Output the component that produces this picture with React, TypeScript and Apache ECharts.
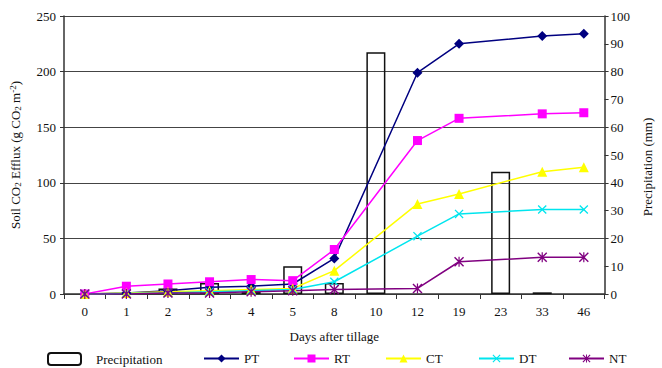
import React, { useEffect, useRef } from "react";
import * as echarts from "echarts";

const days = ["0", "1", "2", "3", "4", "5", "8", "10", "12", "19", "23", "33", "46"];
const precipitation = [null, null, 2, 4, 1, 10, 4, 87, null, null, 44, 0.6, null];
const pt = [0, 1, 3, 6, 7, 9, 32, null, 199, 225, null, 232, 234];
const rt = [0, 7, 9, 11, 13, 12, 40, null, 138, 158, null, 162, 163];
const ct = [0, 1, 2, 3, 4, 5, 21, null, 81, 90, null, 110, 114];
const dt = [0, 0.5, 1, 2, 3, 4, 11, null, 52, 72, null, 76, 76];
const nt = [0, 0, 1, 1, 2, 3, 4, null, 5, 29, null, 33, 33];

const FONT = "Liberation Serif";
const X_SYMBOL = "path://M0,1 L1,0 L5,4 L9,0 L10,1 L6,5 L10,9 L9,10 L5,6 L1,10 L0,9 L4,5 Z";
const STAR_SYMBOL =
  "path://M0,1 L1,0 L5,4 L9,0 L10,1 L6,5 L10,9 L9,10 L5,6 L1,10 L0,9 L4,5 Z M4.4,0 L5.6,0 L5.6,10 L4.4,10 Z";

export default function App() {
  const ref = useRef<HTMLDivElement>(null);
  useEffect(() => {
    if (!ref.current) return;
    const chart = echarts.init(ref.current, null, { renderer: "svg" });
    const lineSeries = (name: string, data: any[], color: string, symbol: string, size: number) => ({
      name,
      type: "line",
      data,
      yAxisIndex: 0,
      connectNulls: true,
      symbol,
      symbolSize: size,
      z: 3,
      lineStyle: { color, width: 1.5 },
      itemStyle: { color },
    });
    const legendBase = {
      top: 352,
      padding: 0,
      itemWidth: 35,
      itemHeight: 10,
      textStyle: { fontFamily: FONT, fontSize: 13, color: "#111" },
    };
    chart.setOption({
      animation: false,
      backgroundColor: "#fff",
      grid: { left: 62, right: 53, top: 16, bottom: 74 },
      legend: [
        { ...legendBase, left: 47, data: ["Precipitation"], itemWidth: 33, itemHeight: 12, textStyle: { ...legendBase.textStyle, padding: [0, 0, 0, 10] } },
        { ...legendBase, left: 203, data: ["PT"] },
        { ...legendBase, left: 293, data: ["RT"] },
        { ...legendBase, left: 385, data: ["CT"] },
        { ...legendBase, left: 478, data: ["DT"] },
        { ...legendBase, left: 568, data: ["NT"] },
      ],
      xAxis: {
        type: "category",
        data: days,
        boundaryGap: true,
        name: "Days after tillage",
        nameLocation: "middle",
        nameGap: 36,
        nameTextStyle: { fontFamily: FONT, fontSize: 13, color: "#111" },
        axisLine: { lineStyle: { color: "#333", width: 1.5 } },
        axisTick: { show: true, alignWithLabel: false, length: 5, lineStyle: { color: "#333" } },
        axisLabel: { fontFamily: FONT, fontSize: 13, color: "#111", margin: 11 },
      },
      yAxis: [
        {
          type: "value",
          min: 0,
          max: 250,
          interval: 50,
          name: "Soil CO{sub|2} Efflux (g CO{sub|2} m{sup|-2})",
          nameLocation: "middle",
          nameRotate: 90,
          nameGap: 42,
          nameTextStyle: {
            fontFamily: FONT,
            fontSize: 13,
            color: "#111",
            rich: {
              sub: { fontFamily: FONT, fontSize: 9, color: "#111", verticalAlign: "bottom", padding: [5, 0, 0, 0] },
              sup: { fontFamily: FONT, fontSize: 9, color: "#111", verticalAlign: "top", padding: [0, 0, 5, 0] },
            },
          },
          axisLine: { show: true, lineStyle: { color: "#333", width: 1.5 } },
          axisTick: { show: true, length: 4, lineStyle: { color: "#333" } },
          axisLabel: { fontFamily: FONT, fontSize: 13, color: "#111", margin: 8 },
          splitLine: { show: true, lineStyle: { color: "#444", width: 1 } },
        },
        {
          type: "value",
          min: 0,
          max: 100,
          interval: 10,
          position: "right",
          name: "Precipitation (mm)",
          nameLocation: "middle",
          nameRotate: 90,
          nameGap: 34,
          nameTextStyle: { fontFamily: FONT, fontSize: 13, color: "#111", padding: [0, 24, 0, 0] },
          axisLine: { show: true, lineStyle: { color: "#333", width: 1.5 } },
          axisTick: { show: true, length: 4, lineStyle: { color: "#333" } },
          axisLabel: { fontFamily: FONT, fontSize: 13, color: "#111", margin: 6 },
          splitLine: { show: false },
        },
      ],
      series: [
        {
          name: "Precipitation",
          type: "bar",
          data: precipitation,
          yAxisIndex: 1,
          barWidth: 19,
          z: 1,
          itemStyle: { color: "rgba(255,255,255,0)", borderColor: "#111", borderWidth: 1.5 },
        },
        lineSeries("PT", pt, "#000080", "diamond", 10),
        lineSeries("RT", rt, "#ff00ff", "rect", 9),
        lineSeries("CT", ct, "#ffff00", "triangle", 10),
        lineSeries("DT", dt, "#00e5ee", X_SYMBOL, 9),
        lineSeries("NT", nt, "#800080", STAR_SYMBOL, 10),
      ],
    });
    return () => chart.dispose();
  }, []);
  return (
    <div
      ref={ref}
      style={{ position: "fixed", left: 0, top: 0, width: 662, height: 368, background: "#fff" }}
    />
  );
}
